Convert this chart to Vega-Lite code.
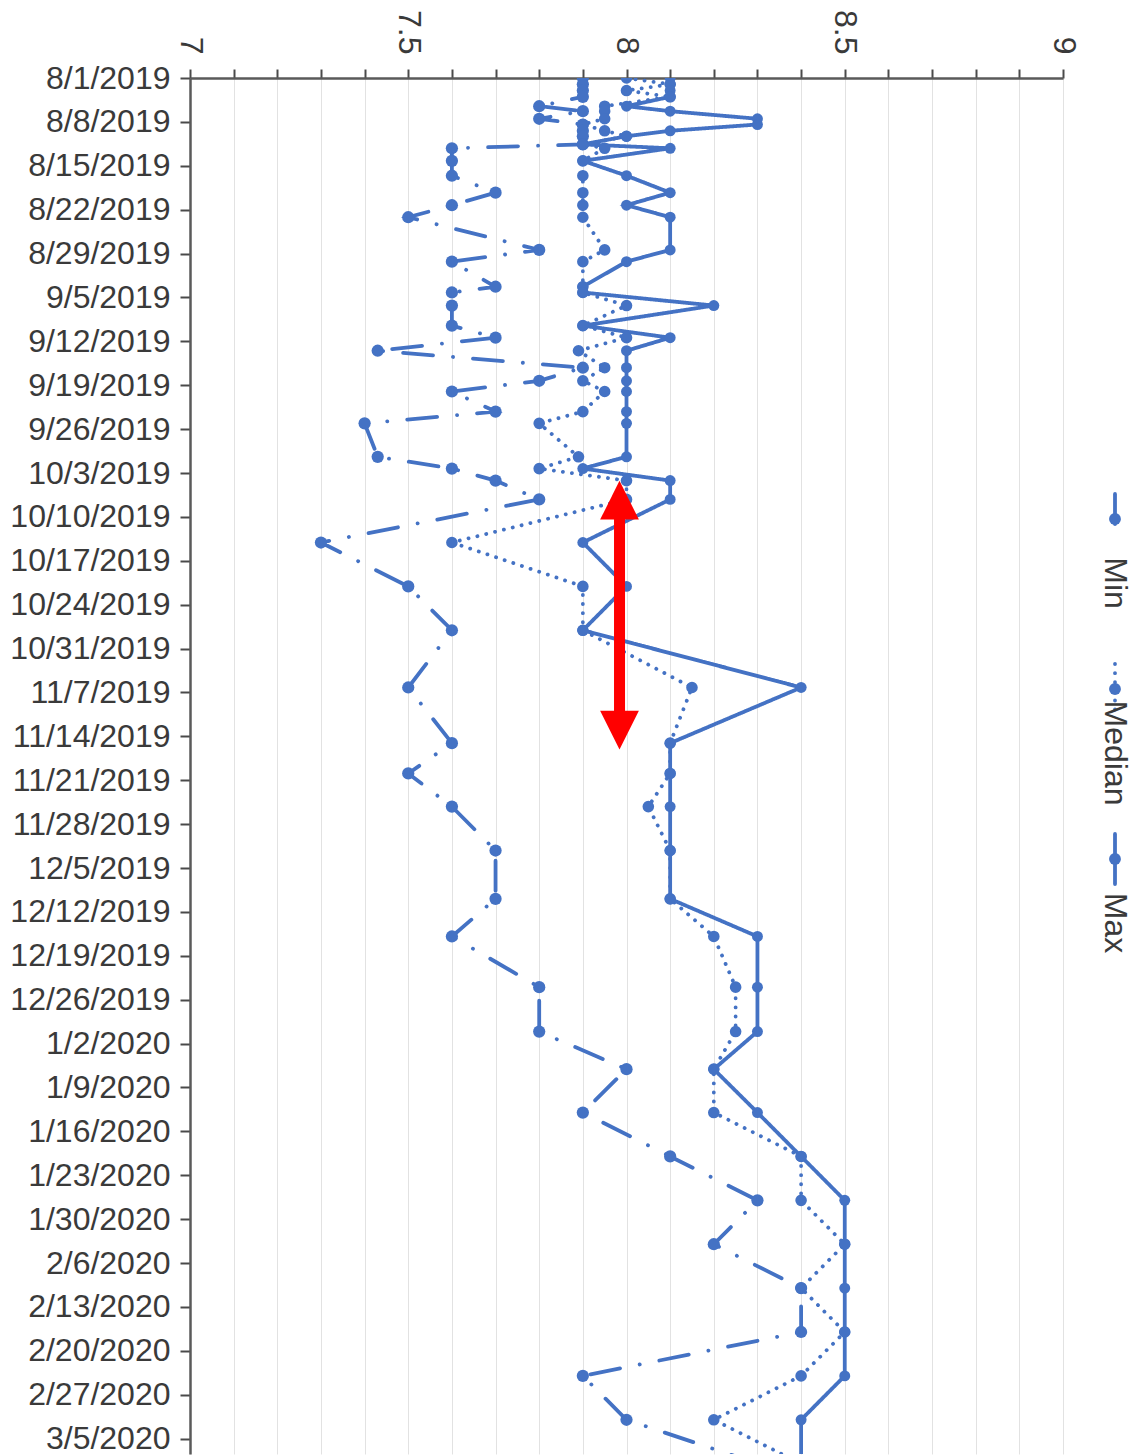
{
  "$schema": "https://vega.github.io/schema/vega-lite/v6.json",
  "padding": {"left": 9, "top": 9, "right": 5, "bottom": 0},
  "bounds": "flush",
  "spacing": 32,
  "config": {
    "view": {"stroke": null},
    "axis": {"labelFont": "Liberation Sans", "labelFontSize": 32, "labelColor": "#3a3a3a", "domainColor": "#5a5a5a", "domainWidth": 2.5, "tickColor": "#4a4a4a", "tickWidth": 2},
    "text": {"font": "Liberation Sans"}
  },
  "datasets": {
    "series": [
      {"d":"2019-08-01T00:00","Min":7.9,"Median":8.0,"Max":8.1},
      {"d":"2019-08-02T00:00","Min":7.9,"Median":8.1,"Max":8.1},
      {"d":"2019-08-03T00:00","Min":7.9,"Median":8.0,"Max":8.1},
      {"d":"2019-08-04T00:00","Min":7.9,"Median":8.1,"Max":8.1},
      {"d":"2019-08-05T12:00","Min":7.8,"Median":7.95,"Max":8.0},
      {"d":"2019-08-06T07:00","Min":7.9,"Median":7.95,"Max":8.1},
      {"d":"2019-08-07T12:00","Min":7.8,"Median":7.95,"Max":8.3},
      {"d":"2019-08-08T10:00","Min":7.9,"Median":7.9,"Max":8.3},
      {"d":"2019-08-09T10:00","Min":7.9,"Median":7.95,"Max":8.1},
      {"d":"2019-08-10T07:00","Min":7.9,"Median":8.0,"Max":8.0},
      {"d":"2019-08-11T14:00","Min":7.9,"Median":7.9,"Max":7.9},
      {"d":"2019-08-12T05:00","Min":7.6,"Median":7.95,"Max":8.1},
      {"d":"2019-08-14T05:00","Min":7.6,"Median":7.9,"Max":7.9},
      {"d":"2019-08-16T14:00","Min":7.6,"Median":7.9,"Max":8.0},
      {"d":"2019-08-19T07:00","Min":7.7,"Median":7.9,"Max":8.1},
      {"d":"2019-08-21T07:00","Min":7.6,"Median":7.9,"Max":8.0},
      {"d":"2019-08-23T05:00","Min":7.5,"Median":7.9,"Max":8.1},
      {"d":"2019-08-28T10:00","Min":7.8,"Median":7.95,"Max":8.1},
      {"d":"2019-08-30T07:00","Min":7.6,"Median":7.9,"Max":8.0},
      {"d":"2019-09-03T07:00","Min":7.7,"Median":7.9,"Max":7.9},
      {"d":"2019-09-04T05:00","Min":7.6,"Median":7.9,"Max":7.9},
      {"d":"2019-09-06T07:00","Min":7.6,"Median":8.0,"Max":8.2},
      {"d":"2019-09-09T12:00","Min":7.6,"Median":7.9,"Max":7.9},
      {"d":"2019-09-11T10:00","Min":7.7,"Median":8.0,"Max":8.1},
      {"d":"2019-09-13T12:00","Min":7.43,"Median":7.89,"Max":8.0},
      {"d":"2019-09-16T05:00","Min":7.9,"Median":7.95,"Max":8.0},
      {"d":"2019-09-18T07:00","Min":7.8,"Median":7.9,"Max":8.0},
      {"d":"2019-09-20T00:00","Min":7.6,"Median":7.95,"Max":8.0},
      {"d":"2019-09-23T05:00","Min":7.7,"Median":7.9,"Max":8.0},
      {"d":"2019-09-25T02:00","Min":7.4,"Median":7.8,"Max":8.0},
      {"d":"2019-09-30T10:00","Min":7.43,"Median":7.89,"Max":8.0},
      {"d":"2019-10-02T07:00","Min":7.6,"Median":7.8,"Max":7.9},
      {"d":"2019-10-04T05:00","Min":7.7,"Median":8.0,"Max":8.1},
      {"d":"2019-10-07T05:00","Min":7.8,"Median":8.0,"Max":8.1},
      {"d":"2019-10-14T02:00","Min":7.3,"Median":7.6,"Max":7.9},
      {"d":"2019-10-21T02:00","Min":7.5,"Median":7.9,"Max":8.0},
      {"d":"2019-10-28T02:00","Min":7.6,"Median":7.9,"Max":7.9},
      {"d":"2019-11-06T05:00","Min":7.5,"Median":8.15,"Max":8.4},
      {"d":"2019-11-15T02:00","Min":7.6,"Median":8.1,"Max":8.1},
      {"d":"2019-11-19T22:00","Min":7.5,"Median":8.1,"Max":8.1},
      {"d":"2019-11-25T05:00","Min":7.6,"Median":8.05,"Max":8.1},
      {"d":"2019-12-02T05:00","Min":7.7,"Median":8.1,"Max":8.1},
      {"d":"2019-12-09T22:00","Min":7.7,"Median":8.1,"Max":8.1},
      {"d":"2019-12-15T22:00","Min":7.6,"Median":8.2,"Max":8.3},
      {"d":"2019-12-24T00:00","Min":7.8,"Median":8.25,"Max":8.3},
      {"d":"2019-12-31T02:00","Min":7.8,"Median":8.25,"Max":8.3},
      {"d":"2020-01-06T02:00","Min":8.0,"Median":8.2,"Max":8.2},
      {"d":"2020-01-13T00:00","Min":7.9,"Median":8.2,"Max":8.3},
      {"d":"2020-01-20T00:00","Min":8.1,"Median":8.4,"Max":8.4},
      {"d":"2020-01-27T00:00","Min":8.3,"Median":8.4,"Max":8.5},
      {"d":"2020-02-03T00:00","Min":8.2,"Median":8.5,"Max":8.5},
      {"d":"2020-02-10T00:00","Min":8.4,"Median":8.4,"Max":8.5},
      {"d":"2020-02-17T00:00","Min":8.4,"Median":8.5,"Max":8.5},
      {"d":"2020-02-24T00:00","Min":7.9,"Median":8.4,"Max":8.5},
      {"d":"2020-03-02T00:00","Min":8.0,"Median":8.2,"Max":8.4},
      {"d":"2020-03-09T00:00","Min":8.3,"Median":8.4,"Max":8.4}
    ],
    "shaft": [
      {"d":"2019-10-09T12:00","d2":"2019-11-10T22:00","v":7.984}
    ],
    "heads": [
      {"d":"2019-10-07T08:00","v":7.984,"dir":"up"},
      {"d":"2019-11-13T00:00","v":7.984,"dir":"down"}
    ],
    "legend": [
      {"s":"Min"},{"s":"Median"},{"s":"Max"}
    ]
  },
  "hconcat": [
    {
      "width": 873,
      "height": 1376,
      "encoding": {
        "x": {
          "field": "v", "type": "quantitative",
          "scale": {"domain": [7, 9], "nice": false, "zero": false},
          "axis": {
            "orient": "top", "title": null,
            "values": [7,7.1,7.2,7.3,7.4,7.5,7.6,7.7,7.8,7.9,8,8.1,8.2,8.3,8.4,8.5,8.6,8.7,8.8,8.9,9],
            "labelExpr": "round(datum.value*10) % 5 == 0 ? toString(round(datum.value*10)/10) : ''",
            "labelAngle": 90, "labelAlign": "right", "labelBaseline": "middle",
            "labelPadding": 15, "tickSize": 9,
            "grid": true, "gridColor": "#e2e2e2", "gridWidth": 1,
            "labelFlush": false, "labelOverlap": false
          }
        },
        "y": {
          "field": "d", "type": "temporal",
          "scale": {"domain": [{"year":2019,"month":8,"date":1},{"year":2020,"month":3,"date":7,"hours":11}], "reverse": true, "nice": false},
          "axis": {
            "orient": "left", "title": null, "format": "%-m/%-d/%Y",
            "values": [
              {"year":2019,"month":8,"date":1},{"year":2019,"month":8,"date":8},{"year":2019,"month":8,"date":15},{"year":2019,"month":8,"date":22},{"year":2019,"month":8,"date":29},
              {"year":2019,"month":9,"date":5},{"year":2019,"month":9,"date":12},{"year":2019,"month":9,"date":19},{"year":2019,"month":9,"date":26},
              {"year":2019,"month":10,"date":3},{"year":2019,"month":10,"date":10},{"year":2019,"month":10,"date":17},{"year":2019,"month":10,"date":24},{"year":2019,"month":10,"date":31},
              {"year":2019,"month":11,"date":7},{"year":2019,"month":11,"date":14},{"year":2019,"month":11,"date":21},{"year":2019,"month":11,"date":28},
              {"year":2019,"month":12,"date":5},{"year":2019,"month":12,"date":12},{"year":2019,"month":12,"date":19},{"year":2019,"month":12,"date":26},
              {"year":2020,"month":1,"date":2},{"year":2020,"month":1,"date":9},{"year":2020,"month":1,"date":16},{"year":2020,"month":1,"date":23},{"year":2020,"month":1,"date":30},
              {"year":2020,"month":2,"date":6},{"year":2020,"month":2,"date":13},{"year":2020,"month":2,"date":20},{"year":2020,"month":2,"date":27},
              {"year":2020,"month":3,"date":5}
            ],
            "tickSize": 10, "labelPadding": 10, "grid": false,
            "labelOverlap": false, "labelFlush": false
          }
        }
      },
      "layer": [
        {
          "data": {"name": "series", "format": {"parse": {"d": "date"}}},
          "transform": [{"fold": ["Min", "Median", "Max"], "as": ["s", "v"]}],
          "mark": {"type": "line", "color": "#4472c4", "strokeWidth": 3.8, "strokeCap": "round", "clip": true},
          "encoding": {
            "detail": {"field": "s", "type": "nominal"},
            "order": {"field": "d", "type": "temporal"},
            "strokeDash": {"field": "s", "type": "nominal", "scale": {"domain": ["Min", "Median", "Max"], "range": [[30, 20, 0.1, 20], [0.1, 9], [1, 0]]}, "legend": null}
          }
        },
        {
          "data": {"name": "series", "format": {"parse": {"d": "date"}}},
          "transform": [{"fold": ["Min", "Median", "Max"], "as": ["s", "v"]}],
          "mark": {"type": "point", "filled": true, "opacity": 1, "color": "#4472c4", "clip": true},
          "encoding": {
            "size": {"field": "s", "type": "nominal", "scale": {"domain": ["Min", "Median", "Max"], "range": [150, 120, 150]}, "legend": null}
          }
        },
        {
          "data": {"name": "shaft", "format": {"parse": {"d": "date", "d2": "date"}}},
          "mark": {"type": "rule", "color": "#ff0000", "strokeWidth": 11},
          "encoding": {"y2": {"field": "d2"}}
        },
        {
          "data": {"name": "heads", "format": {"parse": {"d": "date"}}},
          "mark": {"type": "point", "filled": true, "opacity": 1, "color": "#ff0000", "size": 1500, "strokeWidth": 0},
          "encoding": {
            "shape": {"field": "dir", "type": "nominal", "scale": {"domain": ["up", "down"], "range": ["M0,-1L1,1L-1,1Z", "M0,1L1,-1L-1,-1Z"]}, "legend": null}
          }
        }
      ]
    },
    {
      "width": 40,
      "height": 1376,
      "data": {"name": "legend"},
      "encoding": {
        "y": {"field": "s", "type": "nominal", "scale": {"type": "point", "domain": ["Min", "Median", "Max"], "range": [477, 817], "padding": 0}, "axis": null}
      },
      "layer": [
        {
          "mark": {"type": "point", "shape": "M0,-1L0,1", "filled": false, "color": "#4472c4", "strokeWidth": 3.8, "strokeCap": "round", "size": 2500, "opacity": 1, "yOffset": -36},
          "encoding": {
            "strokeDash": {"field": "s", "type": "nominal", "scale": {"domain": ["Min", "Median", "Max"], "range": [[30, 20, 0.1, 20], [0.1, 9], [1, 0]]}, "legend": null}
          }
        },
        {
          "mark": {"type": "point", "filled": true, "color": "#4472c4", "size": 140, "opacity": 1, "yOffset": -36}
        },
        {
          "mark": {"type": "text", "angle": 90, "align": "center", "baseline": "middle", "fontSize": 32, "font": "Liberation Sans", "color": "#3a3a3a", "yOffset": 28},
          "encoding": {"text": {"field": "s"}}
        }
      ]
    }
  ]
}
